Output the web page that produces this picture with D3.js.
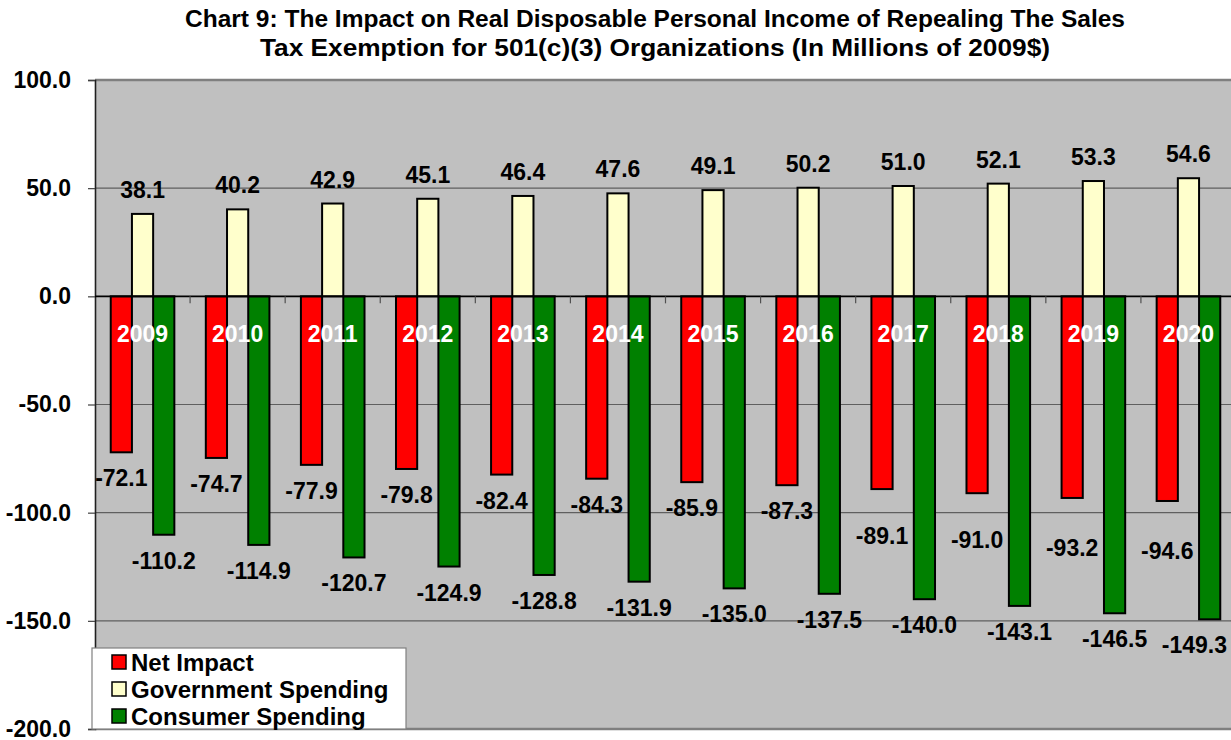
<!DOCTYPE html>
<html>
<head>
<meta charset="utf-8">
<script src="https://cdn.jsdelivr.net/npm/d3@7"></script>
<style>
  html, body { margin: 0; padding: 0; background: #ffffff; }
  svg { display: block; }
  text { font-family: Arial, "Liberation Sans", sans-serif; font-weight: bold; }
</style>
</head>
<body>
<svg id="chart" width="1231" height="740"></svg>
<script>
// Chart data (millions of 2009 dollars)
const years = ["2009", "2010", "2011", "2012", "2013", "2014", "2015", "2016", "2017", "2018", "2019", "2020"];
const netImpact = [-72.1, -74.7, -77.9, -79.8, -82.4, -84.3, -85.9, -87.3, -89.1, -91.0, -93.2, -94.6];
const governmentSpending = [38.1, 40.2, 42.9, 45.1, 46.4, 47.6, 49.1, 50.2, 51.0, 52.1, 53.3, 54.6];
const consumerSpending = [-110.2, -114.9, -120.7, -124.9, -128.8, -131.9, -135.0, -137.5, -140.0, -143.1, -146.5, -149.3];
const seriesNames = ["Net Impact", "Government Spending", "Consumer Spending"];
const seriesColors = ["#ff0000", "#ffffcc", "#008000"];
const yTickValues = [100, 50, 0, -50, -100, -150, -200];
const titleLines = [
  "Chart 9: The Impact on Real Disposable Personal Income of Repealing The Sales",
  "Tax Exemption for 501(c)(3) Organizations (In Millions of 2009$)"
];

// Extra downward nudge for a few Net Impact labels, keyed by year
const netLabelNudge = { "2017": 21, "2018": 21, "2019": 24, "2020": 24 };

const seriesValues = [netImpact, governmentSpending, consumerSpending];
const rows = years.map((yr, i) => ({
  year: yr,
  values: seriesNames.map((name, s) => ({ series: s, name, value: seriesValues[s][i], year: yr }))
}));

const fmt = d3.formatLocale({ decimal: ".", thousands: ",", grouping: [3], currency: ["$", ""], minus: "-" }).format(".1f");

const W = 1231;
const svg = d3.select("#chart");
const plot = { left: 95, right: 1236, top: 80, bottom: 729 };

const x = d3.scaleBand()
  .domain(years)
  .range([plot.left, plot.right])
  .paddingInner(0.331)
  .paddingOuter(0.1655);

const xs = d3.scaleBand()
  .domain(d3.range(seriesNames.length))
  .range([0, x.bandwidth()])
  .padding(0);

const y = d3.scaleLinear()
  .domain([-200, 100])
  .range([plot.bottom, plot.top]);

// Plot background
svg.append("rect")
  .attr("x", plot.left).attr("y", plot.top)
  .attr("width", plot.right - plot.left).attr("height", plot.bottom - plot.top)
  .attr("fill", "#c0c0c0");

// Horizontal gridlines
svg.append("g")
  .selectAll("line")
  .data(yTickValues.filter(v => v !== 0))
  .join("line")
  .attr("x1", plot.left).attr("x2", plot.right)
  .attr("y1", d => y(d)).attr("y2", d => y(d))
  .attr("stroke", d => (d === 100 || d === -200) ? "#7f7f7f" : "#5f5f5f")
  .attr("stroke-width", d => (d === 100 || d === -200) ? 2.5 : 1.2);

// Y axis with tick labels
const yAxis = d3.axisLeft(y)
  .tickValues(yTickValues)
  .tickSize(7)
  .tickPadding(17)
  .tickFormat(fmt);

const gy = svg.append("g")
  .attr("transform", `translate(${plot.left},0)`)
  .call(yAxis);
gy.select(".domain").attr("stroke", "#202020").attr("stroke-width", 1.6);
gy.selectAll(".tick line").attr("stroke", "#404040").attr("stroke-width", 1.2);
gy.selectAll(".tick text")
  .attr("font-size", 23)
  .attr("font-family", "Arial, 'Liberation Sans', sans-serif")
  .attr("font-weight", "bold")
  .attr("fill", "#000");

// Bars
const groups = svg.append("g")
  .selectAll("g")
  .data(rows)
  .join("g")
  .attr("transform", d => `translate(${x(d.year)},0)`);

groups.selectAll("rect")
  .data(d => d.values)
  .join("rect")
  .attr("x", d => xs(d.series))
  .attr("width", xs.bandwidth())
  .attr("y", d => y(Math.max(0, d.value)))
  .attr("height", d => Math.abs(y(d.value) - y(0)))
  .attr("fill", d => seriesColors[d.series])
  .attr("stroke", "#000")
  .attr("stroke-width", 2);

// Zero line and category boundary ticks
svg.append("line")
  .attr("x1", plot.left).attr("x2", plot.right)
  .attr("y1", y(0)).attr("y2", y(0))
  .attr("stroke", "#000").attr("stroke-width", 1.6);

svg.append("g")
  .selectAll("line")
  .data(years.slice(1))
  .join("line")
  .attr("x1", d => x(d) - x.step() * x.paddingInner() / 2)
  .attr("x2", d => x(d) - x.step() * x.paddingInner() / 2)
  .attr("y1", y(0)).attr("y2", y(0) + 7)
  .attr("stroke", "#505050").attr("stroke-width", 1.2);

// Year labels on the zero line
svg.append("g")
  .selectAll("text")
  .data(years)
  .join("text")
  .attr("x", d => x(d) + x.bandwidth() / 2)
  .attr("y", y(0) + 46)
  .attr("text-anchor", "middle")
  .attr("font-size", 23)
  .attr("fill", "#ffffff")
  .text(d => d);

// Value labels
groups.selectAll("text.value")
  .data(d => d.values)
  .join("text")
  .attr("class", "value")
  .attr("x", d => xs(d.series) + xs.bandwidth() / 2)
  .attr("y", d => d.value >= 0
    ? y(d.value) - 16
    : y(d.value) + 34 + (d.series === 0 ? (netLabelNudge[d.year] || 0) : 0))
  .attr("text-anchor", "middle")
  .attr("font-size", 23)
  .attr("fill", "#000")
  .text(d => fmt(d.value))
  .each(function (d) {
    // keep labels inside the drawing area
    const box = this.getBBox();
    const ctm = this.parentNode.transform.baseVal.consolidate();
    const offset = ctm ? ctm.matrix.e : 0;
    const overflow = offset + box.x + box.width - (W - 4);
    if (overflow > 0) d3.select(this).attr("x", +d3.select(this).attr("x") - overflow);
  });

// Title
svg.append("g")
  .selectAll("text")
  .data(titleLines)
  .join("text")
  .attr("x", 655)
  .attr("y", (d, i) => 27 + i * 29)
  .attr("text-anchor", "middle")
  .attr("font-size", 23)
  .attr("textLength", (d, i) => i === 0 ? 940 : 790)
  .attr("lengthAdjust", "spacingAndGlyphs")
  .attr("fill", "#000")
  .text(d => d);

// Legend
const legend = svg.append("g").attr("transform", "translate(92,648)");
legend.append("rect")
  .attr("x", 0).attr("y", 0).attr("width", 314).attr("height", 81)
  .attr("fill", "#ffffff").attr("stroke", "#808080").attr("stroke-width", 1.2);
const items = legend.selectAll("g.item")
  .data(seriesNames)
  .join("g")
  .attr("class", "item")
  .attr("transform", (d, i) => `translate(20,${14 + i * 27})`);
items.append("rect")
  .attr("x", 0).attr("y", -7).attr("width", 14).attr("height", 14)
  .attr("fill", (d, i) => seriesColors[i])
  .attr("stroke", "#000").attr("stroke-width", 1.5);
items.append("text")
  .attr("x", 19).attr("y", 8.5)
  .attr("font-size", 24)
  .attr("fill", "#000")
  .text(d => d);
</script>
</body>
</html>
